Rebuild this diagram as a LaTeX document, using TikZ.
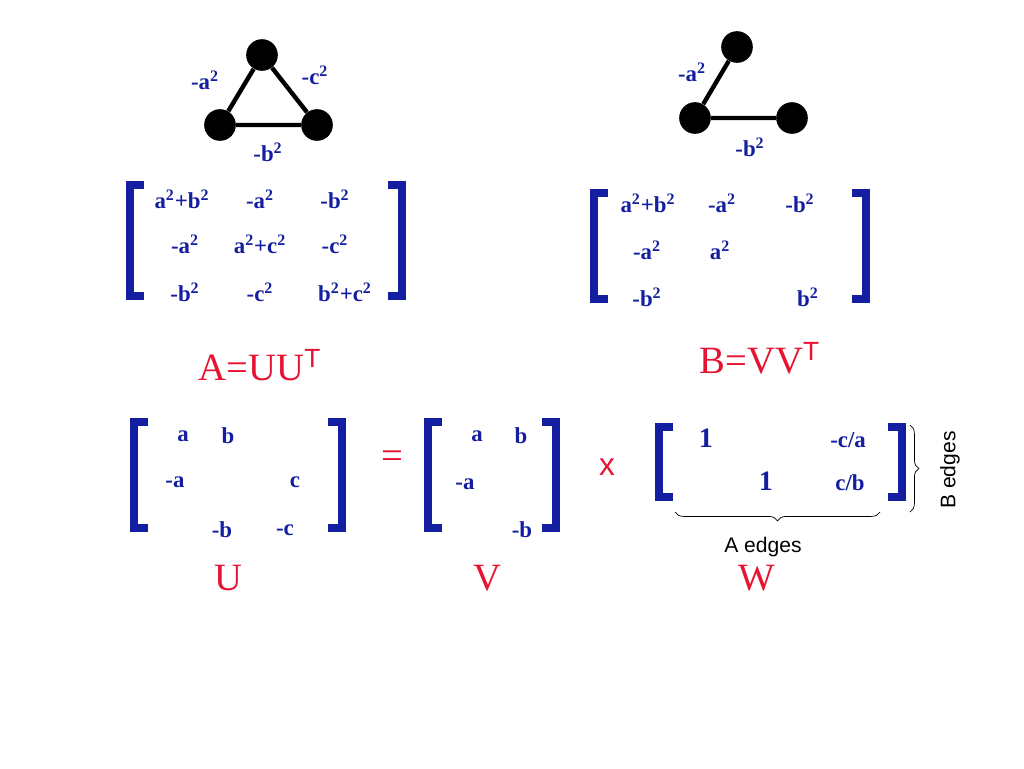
\documentclass[tikz,border=0pt]{standalone}
\usepackage{fontspec}
\setmainfont{Liberation Serif}
\setsansfont{Liberation Sans}
\usetikzlibrary{decorations.pathreplacing}
\definecolor{ink}{RGB}{20,30,160}
\definecolor{redtxt}{RGB}{230,20,50}
\tikzset{
  dot/.style={circle, fill=black, inner sep=0pt, minimum size=18},
  entry/.style={text=ink, font=\bfseries\fontsize{13}{13}\selectfont},
  big/.style={text=redtxt, font=\fontsize{22}{22}\selectfont},
  brk/.style={draw=ink, line width=4pt},
}
\newcommand{\sq}{\textsuperscript{2}}
\newcommand{\tsup}{\textsuperscript{\sffamily\fontsize{15}{15}\selectfont T}}
% bracket pair: left x, right x, top y, bottom y
\newcommand{\brackets}[4]{%
  \draw[brk] (#1+14,#3) -- (#1,#3) -- (#1,#4) -- (#1+14,#4);
  \draw[brk] (#2-14,#3) -- (#2,#3) -- (#2,#4) -- (#2-14,#4);
}
\begin{document}
\begin{tikzpicture}[x=0.02cm, y=-0.02cm]
        \useasboundingbox (0,0) rectangle (1024,768);

        % triangle graph
        \node[dot] (t1) at (262,55) {};
        \node[dot] (t2) at (220,125) {};
        \node[dot] (t3) at (317,125) {};
        \draw[line width=2.5pt] (t1) -- (t2) -- (t3) -- (t1);
        \node[entry] (la) at (205,80) {-a\sq};
        \node[entry] (lc) at (315,75) {-c\sq};
        \node[entry] (lb) at (268,152) {-b\sq};

        % path graph
        \node[dot] (p1) at (737,47) {};
        \node[dot] (p2) at (695,118) {};
        \node[dot] (p3) at (792,118) {};
        \draw[line width=2.5pt] (p1) -- (p2) -- (p3);
        \node[entry] (ma) at (692,72) {-a\sq};
        \node[entry] (mb) at (750,147) {-b\sq};

        % matrix A
        \brackets{130}{402}{185}{296}
        \node[entry] (a11) at (182,199) {a\sq+b\sq};
        \node[entry] (a12) at (260,199) {-a\sq};
        \node[entry] (a13) at (335,199) {-b\sq};
        \node[entry] (a21) at (185,244) {-a\sq};
        \node[entry] (a22) at (260,244) {a\sq+c\sq};
        \node[entry] (a23) at (335,244) {-c\sq};
        \node[entry] (a31) at (185,292) {-b\sq};
        \node[entry] (a32) at (260,292) {-c\sq};
        \node[entry] (a33) at (345,292) {b\sq+c\sq};
        \node[big] (Aeq) at (260,365) {A=UU\tsup};

        % matrix B
        \brackets{594}{866}{193}{299}
        \node[entry] (b11) at (648,203) {a\sq+b\sq};
        \node[entry] (b12) at (722,203) {-a\sq};
        \node[entry] (b13) at (800,203) {-b\sq};
        \node[entry] (b21) at (647,250) {-a\sq};
        \node[entry] (b22) at (720,250) {a\sq};
        \node[entry] (b31) at (647,297) {-b\sq};
        \node[entry] (b33) at (808,297) {b\sq};
        \node[big] (Beq) at (760,358) {B=VV\tsup};

        % U
        \brackets{134}{342}{422}{528}
        \node[entry] (u11) at (183,436) {a};
        \node[entry] (u12) at (228,436) {b};
        \node[entry] (u21) at (175,482) {-a};
        \node[entry] (u23) at (295,482) {c};
        \node[entry] (u32) at (222,530) {-b};
        \node[entry] (u33) at (285,530) {-c};
        \node[big] (Ul) at (228,578) {U};
        \node[big] (eq) at (392,460) {=};

        % V
        \brackets{428}{556}{422}{528}
        \node[entry] (v11) at (477,436) {a};
        \node[entry] (v12) at (521,436) {b};
        \node[entry] (v21) at (465,484) {-a};
        \node[entry] (v32) at (522,530) {-b};
        \node[big] (Vl) at (487,578) {V};
        \node[big, font=\sffamily\fontsize{18}{18}\selectfont] (times) at (607,467) {x};

        % W
        \brackets{659}{902}{427}{497}
        \node[entry, font=\bfseries\fontsize{16}{16}\selectfont] (w11) at (706,438) {1};
        \node[entry] (w13) at (848,440) {-c/a};
        \node[entry, font=\bfseries\fontsize{16}{16}\selectfont] (w22) at (766,481) {1};
        \node[entry] (w23) at (850,483) {c/b};
        \node[big] (Wl) at (757,578) {W};

        % braces
        \coordinate (bl) at (675,512);
        \coordinate (br) at (880,512);
        \draw[decorate, decoration={brace, mirror, amplitude=5pt}] (bl) -- (br);
        \node[font=\sffamily\fontsize{12}{12}\selectfont] (ae) at (763,547) {A edges};
        \coordinate (rt) at (910,425);
        \coordinate (rb) at (910,512);
        \draw[decorate, decoration={brace, amplitude=5pt}] (rt) -- (rb);
        \node[font=\sffamily\fontsize{12}{12}\selectfont, rotate=90] (be) at (950,470) {B edges};
    \end{tikzpicture}
\end{document}
